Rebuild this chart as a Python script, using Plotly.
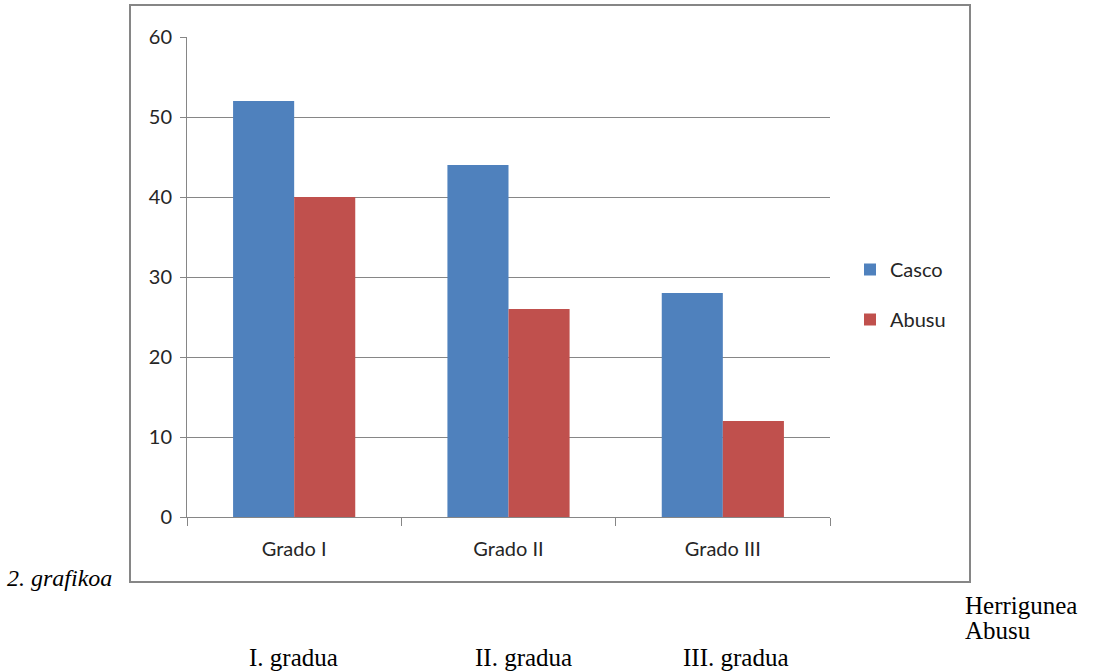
import plotly.graph_objects as go

categories = ["Grado I", "Grado II", "Grado III"]
casco = [52, 44, 28]
abusu = [40, 26, 12]
series_names = ["Casco", "Abusu"]
bottom_labels = ["I. gradua", "II. gradua", "III. gradua"]
caption = "2. grafikoa"
side_labels = ["Herrigunea", "Abusu"]

W, H = 1093, 672
L, R, T, B = 187, 830, 37, 517
PW, PH = R - L, B - T

def px(x):
    return (x - L) / PW

def py(y):
    return (B - y) / PH

grid = "#868686"
sans = "Lato, Open Sans, sans-serif"
tick_font = dict(family=sans, size=20, color="#262626")

fig = go.Figure()
fig.add_trace(go.Bar(x=categories, y=casco, name=series_names[0],
                     marker=dict(color="#4F81BD", line=dict(width=0)), legendgroup="a"))
fig.add_trace(go.Bar(x=categories, y=abusu, name=series_names[1],
                     marker=dict(color="#C0504D", line=dict(width=0)), legendgroup="b"))

fig.update_layout(
    width=W, height=H,
    margin=dict(l=L, r=W - R, t=T, b=H - B, autoexpand=False),
    paper_bgcolor="white", plot_bgcolor="white",
    barmode="group", bargap=0.43, bargroupgap=0,
    font=tick_font,
    showlegend=True,
    legend=dict(x=px(850), y=py(250), xanchor="left", yanchor="top",
                font=dict(family=sans, size=20, color="#262626"),
                tracegroupgap=21, traceorder="grouped", bgcolor="rgba(0,0,0,0)"),
    xaxis=dict(showline=True, linecolor=grid, linewidth=1, ticks="outside",
               tickson="boundaries", ticklen=8, tickcolor=grid, showgrid=False,
               tickfont=tick_font, fixedrange=True, ticklabelstandoff=14),
    yaxis=dict(range=[0, 60], dtick=10, showline=True, linecolor=grid, linewidth=1,
               ticks="outside", ticklen=6, tickcolor=grid, gridcolor=grid, gridwidth=1,
               zeroline=False, tickfont=tick_font, ticklabelstandoff=4),
)

# outer chart frame
fig.add_shape(type="rect", xref="paper", yref="paper",
              x0=px(130), x1=px(970), y0=py(582), y1=py(5),
              line=dict(color="#868686", width=2), fillcolor="rgba(0,0,0,0)", layer="below")

serif = "Liberation Serif, Times New Roman, serif"
fig.add_annotation(text=caption, xref="paper", yref="paper", x=px(114), y=py(578),
                   xanchor="right", yanchor="middle", showarrow=False,
                   font=dict(family=serif, size=24, color="black", style="italic"))
for i, s in enumerate(side_labels):
    fig.add_annotation(text=s, xref="paper", yref="paper", x=px(963), y=py(605 + 25 * i),
                       xanchor="left", yanchor="middle", showarrow=False,
                       font=dict(family=serif, size=25, color="black"))
for s, xc in zip(bottom_labels, [293, 523, 736]):
    fig.add_annotation(text=s, xref="paper", yref="paper", x=px(xc), y=py(657),
                       xanchor="center", yanchor="middle", showarrow=False,
                       font=dict(family=serif, size=25, color="black"))

fig.write_html("out.html")
